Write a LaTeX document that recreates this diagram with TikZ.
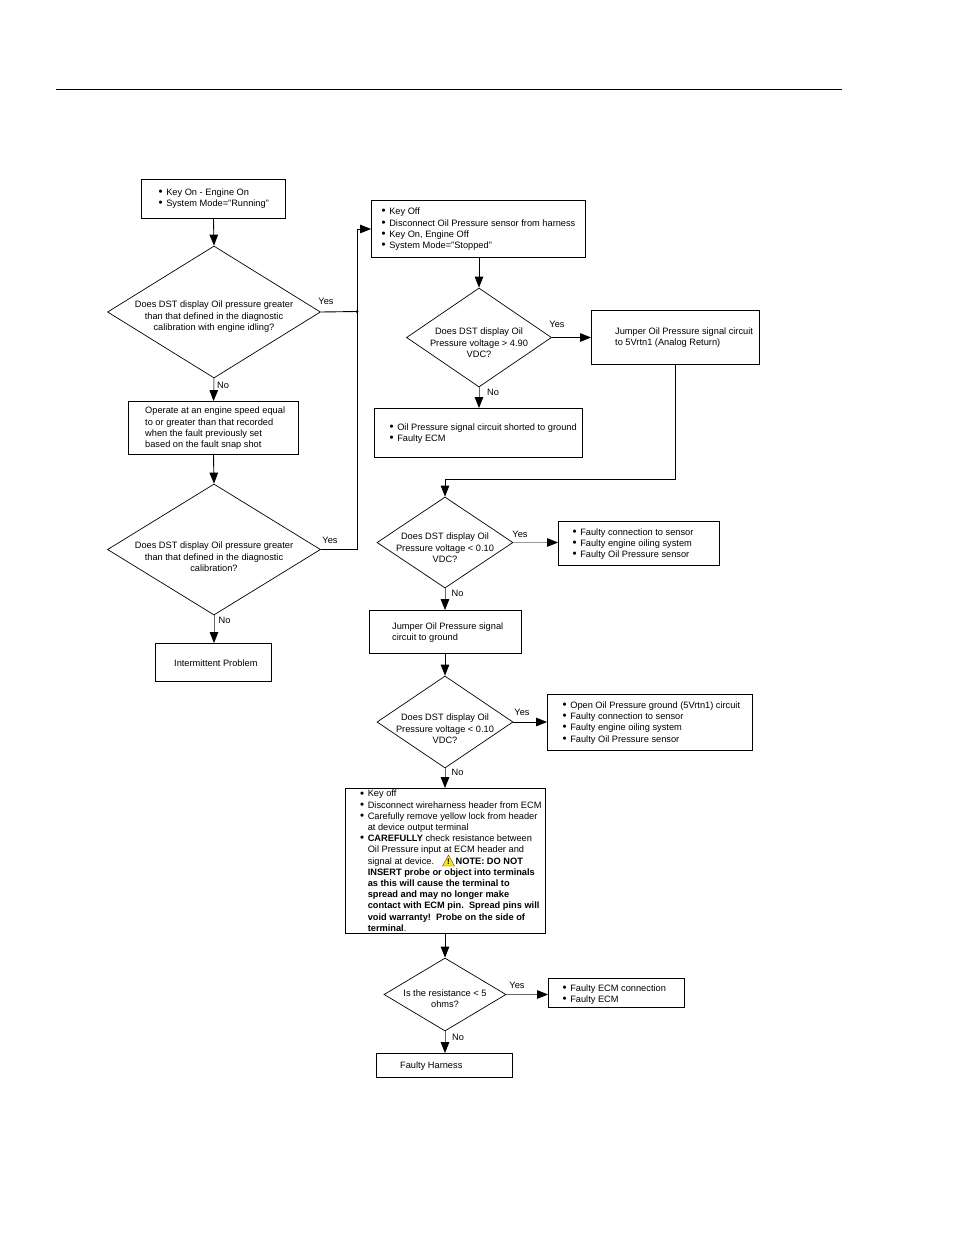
\documentclass[tikz,border=0pt]{standalone}
\usepackage{graphicx}
\usepackage{fontspec}
\setmainfont{Liberation Sans}
\usetikzlibrary{shapes.geometric,arrows.meta,calc}
\newcommand{\bu}{\makebox[6.6pt][l]{\hspace*{-1pt}\raisebox{-0.1pt}{\scalebox{1.25}{\textbullet}}}}
\newcommand{\nb}{\makebox[6.6pt][l]{}}
\tikzset{
 x=1pt,y=-1pt,
 every node/.style={font=\fontsize{9.25}{11.2}\selectfont},
 boxn/.style={draw=black,line width=0.8pt,rectangle,inner sep=0pt,fill=white},
 diam/.style={draw=black,line width=0.7pt,diamond,inner sep=0pt},
 txt/.style={inner sep=0pt,align=left,anchor=west,yshift=-0.8pt},
 ctxt/.style={inner sep=0pt,align=center,anchor=center,yshift=-0.8pt},
 lbl/.style={inner sep=0pt,anchor=center,yshift=-0.8pt},
 conn/.style={draw=black,line width=0.9pt},
 arr/.style={conn,-{Triangle[length=11pt,width=8.5pt,color=black]}},
 garr/.style={arr,draw=black!60,line width=1pt},
 larr/.style={arr,draw=black!40,line width=0.8pt},
}
\newcommand{\bx}[5]{\node[boxn,minimum width=#4-#2-1,minimum height=#5-#3-1] (#1) at ({(#2+#4)/2},{(#3+#5)/2}) {};}
\newcommand{\dm}[5]{\pgfmathsetmacro{\asp}{(#3)/(#4)}\node[diam,shape aspect=\asp,minimum width=#3,minimum height=#4] (#1) at (#2,#5) {};}
\begin{document}
\begin{tikzpicture}
\useasboundingbox (0,0) rectangle (954,1235);
\fill[white] (0,0) rectangle (954,1235);
\coordinate (ruleL) at (56,89.5);
\coordinate (ruleR) at (842,89.5);
\draw[line width=0.8pt] (ruleL) -- (ruleR);
% boxes
\bx{a}{141}{179}{286}{219}
\bx{b}{128}{401}{299}{455}
\bx{c}{155}{643}{272}{682}
\bx{e}{371}{200}{586}{258}
\bx{f}{591}{310}{760}{365}
\bx{g}{374}{408}{583}{458}
\bx{h}{558}{521}{720}{566}
\bx{i}{369}{610}{522}{654}
\bx{j}{547}{694}{753}{751}
\bx{k}{345}{788}{546}{934}
\bx{l}{548}{978}{685}{1008}
\bx{m}{376}{1053}{513}{1078}
% diamonds: name, cx, w, h, cy
\dm{d1}{214}{213}{132}{312}
\dm{d2}{214}{213}{131}{549.5}
\dm{d3}{479}{145}{99}{337.5}
\dm{d4}{445}{136}{91}{542.5}
\dm{d5}{445}{136}{92}{722}
\dm{d6}{445}{122}{73}{994.5}
% texts
\node[txt] (at) at (159.5,197.5) {\bu Key On - Engine On\\\bu System Mode="Running"};
\node[ctxt] (d1t) at (214,316) {Does DST display Oil pressure greater\\than that defined in the diagnostic\\calibration with engine idling?};
\node[txt] (bt) at (145,427.5) {Operate at an engine speed equal\\to or greater than that recorded\\when the fault previously set\\based on the fault snap shot};
\node[ctxt] (d2t) at (214,556) {Does DST display Oil pressure greater\\than that defined in the diagnostic\\calibration?};
\node[txt] (ct) at (174,662) {Intermittent Problem};
\node[txt] (et) at (382.5,228.5) {\bu Key Off\\\bu Disconnect Oil Pressure sensor from harness\\\bu Key On, Engine Off\\\bu System Mode="Stopped"};
\node[ctxt] (d3t) at (479,342) {Does DST display Oil\\Pressure voltage > 4.90\\VDC?};
\node[txt] (ft) at (615,337) {Jumper Oil Pressure signal circuit\\to 5Vrtn1 (Analog Return)};
\node[txt] (gt) at (390.5,432.5) {\bu Oil Pressure signal circuit shorted to ground\\\bu Faulty ECM};
\node[ctxt] (d4t) at (445,547) {Does DST display Oil\\Pressure voltage < 0.10\\VDC?};
\node[txt] (ht) at (573.5,543) {\bu Faulty connection to sensor\\\bu Faulty engine oiling system\\\bu Faulty Oil Pressure sensor};
\node[txt] (it) at (392,631.5) {Jumper Oil Pressure signal\\circuit to ground};
\node[ctxt] (d5t) at (445,728) {Does DST display Oil\\Pressure voltage < 0.10\\VDC?};
\node[txt] (jt) at (563.5,722) {\bu Open Oil Pressure ground (5Vrtn1) circuit\\\bu Faulty connection to sensor\\\bu Faulty engine oiling system\\\bu Faulty Oil Pressure sensor};
\node[txt] (kt) at (361,860) {\bu Key off\\\bu Disconnect wireharness header from ECM\\\bu Carefully remove yellow lock from header\\\nb at device output terminal\\\bu \textbf{CAREFULLY} check resistance between\\\nb Oil Pressure input at ECM header and\\\nb signal at device.\hspace{21.5pt}\textbf{NOTE: DO NOT}\\\nb \textbf{INSERT probe or object into terminals}\\\nb \textbf{as this will cause the terminal to}\\\nb \textbf{spread and may no longer make}\\\nb \textbf{contact with ECM pin.\ \ Spread pins will}\\\nb \textbf{void warranty!\ \ Probe on the side of}\\\nb \textbf{terminal}.};
\node[ctxt] (d6t) at (445,997.5) {Is the resistance < 5\\ohms?};
\node[txt] (lt) at (563.5,993.5) {\bu Faulty ECM connection\\\bu Faulty ECM};
\node[txt] (mt) at (400,1065) {Faulty Harness};
% warning triangle
\fill[yellow!90!orange,draw=black!70,line width=0.4pt] (442.5,866) -- (448.5,855) -- (454.5,866) -- cycle;
\node[lbl,font=\fontsize{8}{8}\bfseries\selectfont] (warn) at (448.5,861) {!};
% labels
\node[lbl] (y1) at (326,301) {Yes};
\node[lbl] (n1) at (223,385) {No};
\node[lbl] (y2) at (330,540) {Yes};
\node[lbl] (n2) at (224.5,620) {No};
\node[lbl] (y3) at (557,324) {Yes};
\node[lbl] (n3) at (493,392) {No};
\node[lbl] (y4) at (520,534) {Yes};
\node[lbl] (n4) at (457.5,593) {No};
\node[lbl] (y5) at (522,712) {Yes};
\node[lbl] (n5) at (457.5,771.5) {No};
\node[lbl] (y6) at (517,985) {Yes};
\node[lbl] (n6) at (458,1037) {No};
% connectors
\coordinate (dot) at (357,311.5);
\coordinate (jn) at (445,479.5);
\draw[arr] (a.south) -- (d1.north);
\draw[garr] (d1.south) -- (b.north);
\draw[arr] (b.south) -- (d2.north);
\draw[garr] (d2.south) -- (c.north -| d2.south);
\draw[conn] (d1.east) -- (dot);
\fill (dot) circle (1.5pt);
\draw[conn] (d2.east) -| (dot);
\draw[arr] (dot) |- (e.west);
\draw[arr] (e.south -| d3.north) -- (d3.north);
\draw[arr] (d3.east) -- (f.west |- d3.east);
\draw[garr] (d3.south) -- (g.north -| d3.south);
\draw[conn] (f.south) |- (jn);
\draw[arr] (jn) -- (d4.north);
\draw[larr] (d4.east) -- (h.west |- d4.east);
\draw[garr] (d4.south) -- (i.north -| d4.south);
\draw[arr] (i.south -| d5.north) -- (d5.north);
\draw[arr] (d5.east) -- (j.west |- d5.east);
\draw[garr] (d5.south) -- (k.north -| d5.south);
\draw[arr] (k.south -| d6.north) -- (d6.north);
\draw[garr] (d6.east) -- (l.west |- d6.east);
\draw[garr] (d6.south) -- (m.north -| d6.south);
\end{tikzpicture}
\end{document}
